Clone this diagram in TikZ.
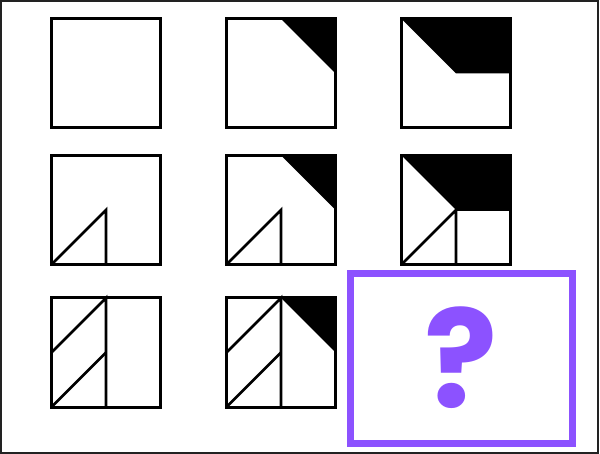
\documentclass[tikz,border=0pt]{standalone}
\usepackage{fontspec}
\newfontfamily\quizfont{Poppins}
\usetikzlibrary{positioning}
\definecolor{quiz}{HTML}{8C52FF}
\definecolor{edge}{HTML}{222222}

\begin{document}
\begin{tikzpicture}[x=1pt,y=-1pt,
  node distance=27.5pt and 66pt,
  cell/.style={draw,line width=3pt,minimum size=109pt,inner sep=0pt,outer sep=0pt},
  ink/.style={line width=2.7pt},
  askbox/.style={draw=quiz,line width=7pt,minimum width=222pt,minimum height=170pt,inner sep=0pt,outer sep=0pt}]
  \useasboundingbox (0,0) rectangle (600,454);
  \draw[edge,line width=2pt] (1,1) rectangle (598,453);
  % the grid of cells
  \node[cell] (a1) at (106,73.5) {};
  \node[cell] (a2) [right=of a1] {};
  \node[cell] (a3) [right=of a2] {};
  \node[cell] (b1) [below=of a1] {};
  \node[cell] (b2) [below=of a2] {};
  \node[cell] (b3) [below=of a3] {};
  \node[cell] (c1) [below=33.5pt of b1] {};
  \node[cell] (c2) [below=33.5pt of b2] {};
  % black corners
  \foreach \c in {a2,b2,c2}
    \fill (\c.north) -- (\c.north east) -- (\c.east) -- cycle;
  \foreach \c in {a3,b3}
    \fill (\c.north west) -- (\c.north east) -- (\c.east) -- (\c.center) -- cycle;
  % thin lines
  \foreach \c in {b1,b2,b3}
    \draw[ink] (\c.south west) -- (\c.center) -- (\c.south);
  \draw[ink] (b3.center) -- (b3.east);
  \foreach \c in {c1,c2} {
    \draw[ink] (\c.west) -- (\c.north) -- (\c.south);
    \draw[ink] (\c.south west) -- (\c.center);
  }
  % the missing cell
  \node[askbox] (ask) at (461.5,358.5) {};
  \node[text=quiz,inner sep=0pt,font=\quizfont\bfseries\fontsize{136}{136}\selectfont] (mark) at (461,358) {?};
\end{tikzpicture}
\end{document}
